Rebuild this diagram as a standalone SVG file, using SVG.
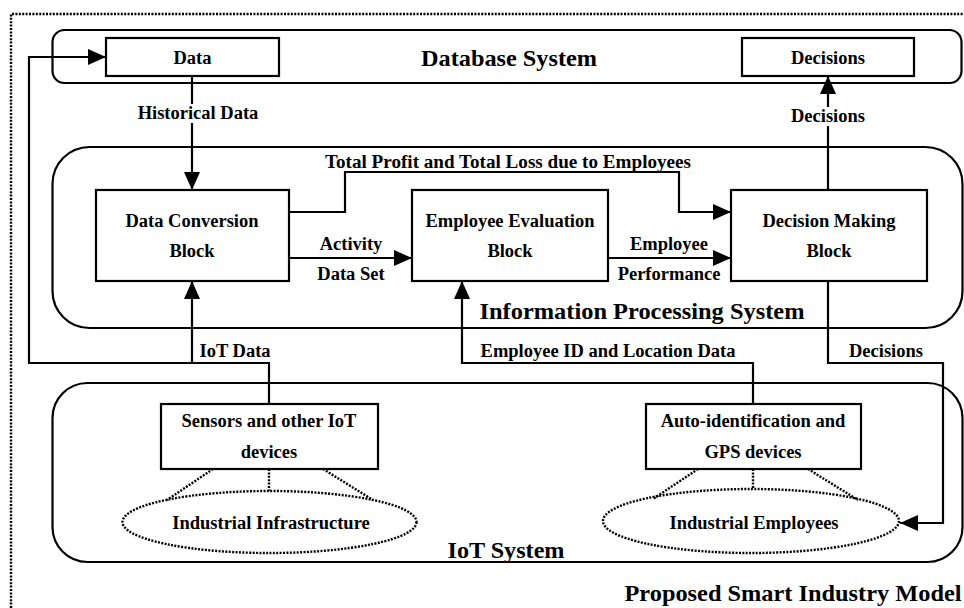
<svg xmlns="http://www.w3.org/2000/svg" width="964" height="608" viewBox="0 0 964 608">
<style>
text{font-family:"Liberation Serif","Times New Roman",serif;font-weight:bold;fill:#000;text-anchor:middle}
.lbl{font-size:18.5px}
.ttl{font-size:24px}
.sys{fill:none;stroke:#000;stroke-width:2.2}
.box{fill:#fff;stroke:#000;stroke-width:2.2}
.con{fill:none;stroke:#000;stroke-width:2.2}
.dot{fill:none;stroke:#000;stroke-width:2.4;stroke-dasharray:2 1.4}
</style>
<defs>
<marker id="ah" markerUnits="userSpaceOnUse" markerWidth="18" markerHeight="16" refX="18" refY="8" orient="auto">
<path d="M0,0 L18,8 L0,16 Z" fill="#000"/>
</marker>
</defs>
<rect width="964" height="608" fill="#fff"/>
<g id="frame">
<path class="dot" d="M11,608 V14 H964"/>
<text class="ttl" x="793" y="601" textLength="337" lengthAdjust="spacingAndGlyphs">Proposed Smart Industry Model</text>
</g>
<g id="database-system">
<rect class="sys" x="52.5" y="30" width="909" height="53" rx="12"/>
<text class="ttl" x="509" y="65.5" textLength="176" lengthAdjust="spacingAndGlyphs">Database System</text>
</g>
<g id="information-processing-system">
<rect class="sys" x="52.5" y="147" width="910" height="181" rx="37"/>
<text class="ttl" x="642" y="319" textLength="325" lengthAdjust="spacingAndGlyphs">Information Processing System</text>
</g>
<g id="iot-system">
<rect class="sys" x="52.5" y="383" width="910" height="179" rx="35"/>
<text class="ttl" x="506" y="558" textLength="117" lengthAdjust="spacingAndGlyphs">IoT System</text>
</g>
<g id="data">
<rect class="box" x="106" y="38" width="173" height="38"/>
<text class="lbl" x="192.5" y="63.5">Data</text>
</g>
<g id="decisions">
<rect class="box" x="742" y="38" width="172" height="38"/>
<text class="lbl" x="828" y="63.5">Decisions</text>
</g>
<g id="data-conversion-block">
<rect class="box" x="96" y="190" width="193" height="91"/>
<text class="lbl" x="192" y="226.5">Data Conversion</text>
<text class="lbl" x="192" y="257">Block</text>
</g>
<g id="employee-evaluation-block">
<rect class="box" x="412" y="190" width="196" height="91"/>
<text class="lbl" x="510" y="226.5">Employee Evaluation</text>
<text class="lbl" x="510" y="257">Block</text>
</g>
<g id="decision-making-block">
<rect class="box" x="731" y="190" width="196" height="91"/>
<text class="lbl" x="829" y="226.5">Decision Making</text>
<text class="lbl" x="829" y="257">Block</text>
</g>
<g id="sensors">
<rect class="box" x="161" y="404" width="217" height="65"/>
<text class="lbl" x="269" y="427">Sensors and other IoT</text>
<text class="lbl" x="269" y="458">devices</text>
</g>
<g id="auto-identification">
<rect class="box" x="646" y="404" width="215" height="65"/>
<text class="lbl" x="753" y="427">Auto-identification and</text>
<text class="lbl" x="753" y="458">GPS devices</text>
</g>
<g id="industrial-infrastructure">
<ellipse class="dot" cx="269.5" cy="522" rx="147" ry="31"/>
<text class="lbl" x="271" y="529">Industrial Infrastructure</text>
</g>
<g id="industrial-employees">
<ellipse class="dot" cx="751" cy="521" rx="148" ry="32"/>
<text class="lbl" x="754" y="529">Industrial Employees</text>
</g>
<g id="connectors">
<path class="dot" d="M213,469 L167,500 M269,469 V491 M323,469 L373,500"/>
<path class="dot" d="M698,469 L653,499 M753,469 V489 M808,469 L858,500"/>
<path class="con" d="M269,404 V363 H29 V57 H106" marker-end="url(#ah)"/>
<path class="con" d="M192,363 V281" marker-end="url(#ah)"/>
<path class="con" d="M192,76 V190" marker-end="url(#ah)"/>
<path class="con" d="M289,212 H345 V172 H679 V212 H731" marker-end="url(#ah)"/>
<path class="con" d="M289,258 H412" marker-end="url(#ah)"/>
<path class="con" d="M608,258 H731" marker-end="url(#ah)"/>
<path class="con" d="M828,190 V76" marker-end="url(#ah)"/>
<path class="con" d="M828,281 V363 H943 V523 H900" marker-end="url(#ah)"/>
<path class="con" d="M753,404 V363 H462 V281" marker-end="url(#ah)"/>
<rect x="135" y="104" width="126" height="19" fill="#fff"/>
<text class="lbl" x="198" y="119">Historical Data</text>
<rect x="789" y="107" width="78" height="19" fill="#fff"/>
<text class="lbl" x="828" y="122">Decisions</text>
<text class="lbl" x="508" y="168" textLength="366" lengthAdjust="spacingAndGlyphs">Total Profit and Total Loss due to Employees</text>
<text class="lbl" x="351" y="250">Activity</text>
<text class="lbl" x="351" y="279.5">Data Set</text>
<text class="lbl" x="669" y="250">Employee</text>
<text class="lbl" x="669" y="279.5">Performance</text>
<text class="lbl" x="235" y="357">IoT Data</text>
<text class="lbl" x="608" y="357">Employee ID and Location Data</text>
<text class="lbl" x="886" y="357">Decisions</text>
</g>
</svg>
